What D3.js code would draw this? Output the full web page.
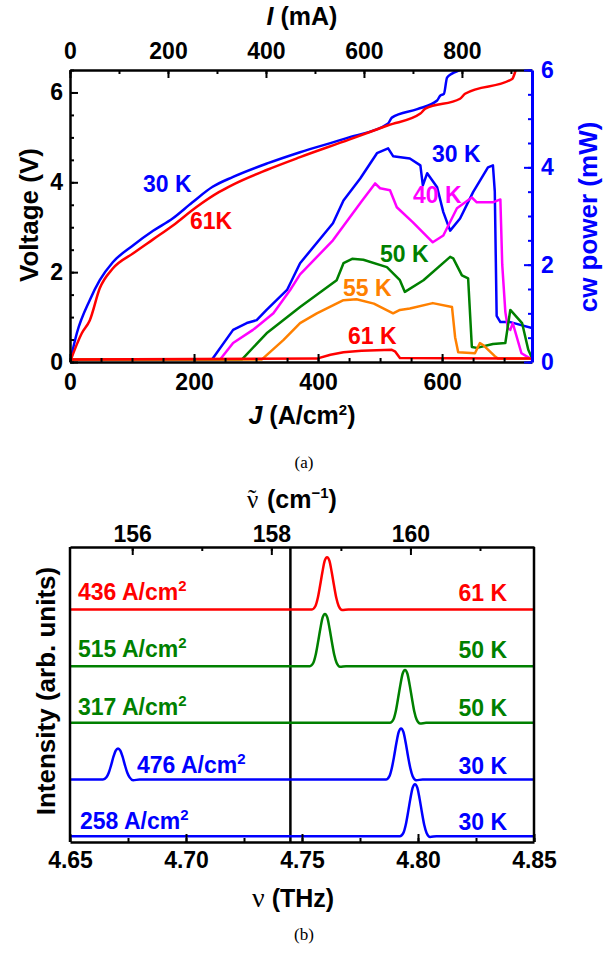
<!DOCTYPE html>
<html>
<head>
<meta charset="utf-8">
<script src="https://cdn.jsdelivr.net/npm/d3@7"></script>
<style>
  body { margin: 0; background: #fff; }
  text { font-family: "Liberation Sans", Arial, sans-serif; font-weight: bold; }
</style>
</head>
<body>
<div id="chart-container"></div>
<script>
// ---------- panel (a) data ----------
// voltage (V) against J (A/cm2)
const voltage30K = [[0,0],[11,0.64],[32,1.38],[48,1.82],[69,2.22],[102,2.6],[134,2.92],[166,3.2],[197,3.55],[230,3.9],[263,4.12],[318,4.42],[371,4.67],[450,5.0],[513,5.31],[519,5.44],[560,5.63],[592,5.82],[597,5.93],[603,5.97],[608,6.33],[616,6.42],[629,6.5],[640,6.6]];
const voltage61K = [[0,0],[19,0.64],[32,0.93],[48,1.64],[69,2.08],[102,2.42],[134,2.73],[166,3.04],[204,3.45],[240,3.78],[263,3.95],[318,4.28],[371,4.56],[450,4.95],[513,5.27],[565,5.53],[573,5.64],[629,5.86],[637,5.97],[713,6.3],[719,6.5],[722,6.6]];

// cw power (mW) against J (A/cm2)
const power30K = [[0,0.05],[229,0.05],[263,0.66],[285,0.8],[301,0.86],[317,1.07],[350,1.48],[371,2.03],[424,2.85],[441,3.32],[468,3.77],[495,4.29],[513,4.39],[521,4.23],[548,4.18],[565,4.04],[569,3.63],[576,3.88],[592,3.59],[602,3.08],[613,2.7],[629,2.95],[650,3.49],[674,4.0],[682,4.04],[685,3.5],[688,0.95],[694,0.82],[710,0.82],[745,0.7]];
const power40K = [[0,0.05],[242,0.05],[263,0.39],[295,0.66],[328,1.0],[355,1.48],[371,1.8],[424,2.5],[470,3.3],[492,3.67],[500,3.57],[516,3.53],[527,3.18],[553,2.87],[585,2.46],[602,2.6],[624,3.16],[648,3.38],[656,3.28],[682,3.28],[694,3.34],[697,2.0],[702,1.03],[706,0.7],[710,0.66],[714,0.8],[728,0.18],[745,0.05]];
const power50K = [[0,0.05],[277,0.05],[317,0.59],[371,1.13],[430,1.68],[441,2.03],[455,2.12],[473,2.1],[511,1.95],[532,1.68],[540,1.44],[570,1.68],[613,2.16],[618,2.13],[632,1.78],[642,1.72],[648,0.31],[656,0.29],[682,0.37],[702,0.39],[710,1.07],[729,0.8],[739,0.25],[745,0.08]];
const power55K = [[0,0.05],[309,0.05],[344,0.45],[371,0.8],[398,1.0],[441,1.27],[462,1.29],[490,1.2],[521,1.0],[532,1.07],[548,1.1],[585,1.21],[616,1.13],[621,0.51],[626,0.2],[653,0.18],[661,0.39],[666,0.35],[685,0.12],[690,0.07],[745,0.07]];
const power61K = [[0,0.05],[398,0.07],[420,0.15],[441,0.2],[470,0.23],[519,0.25],[524,0.22],[532,0.08],[745,0.07]];

const jTicks = [0, 200, 400, 600];
const iTicks = [0, 200, 400, 600, 800];
const vTicks = [0, 2, 4, 6];
const pTicks = [0, 2, 4, 6];

// ---------- panel (b) data ----------
// frequency (THz) against intensity above each trace's baseline
const spec61K_436 = [[4.65,0],[4.7543,0],[4.7558,0.06],[4.7568,0.2],[4.7578,0.42],[4.7588,0.66],[4.7598,0.86],[4.7608,0.92],[4.7618,0.86],[4.7628,0.66],[4.7638,0.42],[4.7648,0.2],[4.7658,0.06],[4.7673,-0.01],[4.77,0],[4.85,0]];
const spec50K_515 = [[4.65,0],[4.7534,0],[4.7549,0.06],[4.7559,0.2],[4.7569,0.42],[4.7579,0.66],[4.7589,0.86],[4.7599,0.92],[4.7609,0.86],[4.7619,0.66],[4.7629,0.42],[4.7639,0.2],[4.7649,0.06],[4.7664,-0.01],[4.769,0],[4.85,0]];
const spec50K_317 = [[4.65,0],[4.7879,0],[4.7894,0.06],[4.7904,0.2],[4.7914,0.43],[4.7924,0.67],[4.7934,0.87],[4.7944,0.93],[4.7954,0.87],[4.7964,0.67],[4.7974,0.43],[4.7984,0.2],[4.7994,0.06],[4.8009,-0.01],[4.8035,0],[4.85,0]];
const spec30K_476 = [[4.65,0],[4.6642,0],[4.6657,0.04],[4.6667,0.12],[4.6677,0.25],[4.6687,0.4],[4.6697,0.51],[4.6707,0.55],[4.6717,0.51],[4.6727,0.4],[4.6737,0.25],[4.6747,0.12],[4.6757,0.04],[4.6772,-0.01],[4.68,0],[4.7862,0],[4.7877,0.06],[4.7887,0.2],[4.7897,0.41],[4.7907,0.65],[4.7917,0.84],[4.7927,0.9],[4.7937,0.84],[4.7947,0.65],[4.7957,0.41],[4.7967,0.2],[4.7977,0.06],[4.7992,-0.01],[4.802,0],[4.85,0]];
const spec30K_258 = [[4.65,0],[4.7922,0],[4.7937,0.06],[4.7947,0.2],[4.7957,0.42],[4.7967,0.66],[4.7977,0.86],[4.7987,0.92],[4.7997,0.86],[4.8007,0.66],[4.8017,0.42],[4.8027,0.2],[4.8037,0.06],[4.8052,-0.01],[4.808,0],[4.85,0]];

const specOffsets = [4, 3, 2, 1, 0];
const specCurrents = ["436", "515", "317", "476", "258"];
const specTemps = ["61 K", "50 K", "50 K", "30 K", "30 K"];
const markerNu = 4.745;

const nuTicks = [4.65, 4.70, 4.75, 4.80, 4.85];
const wnTicks = [156, 158, 160];
const thzToWn = 33.356;

const BLUE = "#0000ff", RED = "#ff0000", MAG = "#ff00ff", GREEN = "#008000", ORANGE = "#ff8000";

//create the SVG element
const svg = d3.select("#chart-container")
  .append("svg")
  .attr("width", 607)
  .attr("height", 956);

// helper for major + minor inward ticks
function addAxis(gen, scale, major, minor, pad, tx, ty, color, fmt) {
  svg.append("g")
    .attr("transform", `translate(${tx},${ty})`)
    .call(gen(scale).tickValues(minor).tickSizeInner(-4).tickSizeOuter(0).tickFormat(""))
    .call(g => g.select(".domain").remove())
    .selectAll("line").attr("stroke", color).attr("stroke-width", 2);
  const g = svg.append("g")
    .attr("transform", `translate(${tx},${ty})`)
    .call(gen(scale).tickValues(major).tickSizeInner(-8).tickSizeOuter(0).tickPadding(pad)
      .tickFormat(fmt || d3.format("d")));
  g.select(".domain").attr("stroke", color).attr("stroke-width", 2.5);
  g.selectAll("line").attr("stroke", color).attr("stroke-width", 2);
  g.selectAll("text")
    .attr("fill", color)
    .style("font-size", "23px")
    .style("font-family", "'Liberation Sans', Arial, sans-serif")
    .style("font-weight", "bold");
  return g;
}

// ================= panel (a) =================
const pa = {left: 70, right: 532, top: 70, bottom: 362};
const xJ = d3.scaleLinear().domain([0, 745]).range([pa.left, pa.right]);
const xI = d3.scaleLinear().domain([0, 943]).range([pa.left, pa.right]);
const yV = d3.scaleLinear().domain([0, 6.5]).range([pa.bottom, pa.top]);
const yP = d3.scaleLinear().domain([0, 6]).range([pa.bottom, pa.top]);

svg.append("clipPath").attr("id", "clipA")
  .append("rect")
  .attr("x", pa.left).attr("y", pa.top)
  .attr("width", pa.right - pa.left).attr("height", pa.bottom - pa.top);

const linePower = d3.line().x(d => xJ(d[0])).y(d => yP(d[1]));
const lineVolt = d3.line().x(d => xJ(d[0])).y(d => yV(d[1])).curve(d3.curveMonotoneX);

const curvesA = svg.append("g").attr("clip-path", "url(#clipA)");
[[power30K, BLUE], [power40K, MAG], [power50K, GREEN], [power55K, ORANGE], [power61K, RED]]
  .forEach(([data, color]) => {
    curvesA.append("path")
      .datum(data)
      .attr("fill", "none")
      .attr("stroke", color)
      .attr("stroke-width", 2.5)
      .attr("stroke-linejoin", "round")
      .attr("d", linePower);
  });
[[voltage30K, BLUE], [voltage61K, RED]].forEach(([data, color]) => {
  curvesA.append("path")
    .datum(data)
    .attr("fill", "none")
    .attr("stroke", color)
    .attr("stroke-width", 2.5)
    .attr("d", lineVolt);
});

//axes for panel (a)
addAxis(d3.axisBottom, xJ, jTicks, d3.range(0, 746, 50), 12, 0, pa.bottom, "#000");
addAxis(d3.axisTop, xI, iTicks, d3.range(0, 944, 100), 11, 0, pa.top, "#000");
addAxis(d3.axisLeft, yV, vTicks, d3.range(0, 6.6, 0.5), 7, pa.left, 0, "#000");
addAxis(d3.axisRight, yP, pTicks, d3.range(0, 6.1, 0.5), 9, pa.right, 0, BLUE)
  .select(".domain").attr("stroke-width", 3);

// axis titles (a)
svg.append("text")
  .attr("x", 302).attr("y", 25)
  .attr("text-anchor", "middle")
  .style("font-size", "25px")
  .call(t => {
    t.append("tspan").style("font-style", "italic").text("I");
    t.append("tspan").text(" (mA)");
  });

svg.append("text")
  .attr("x", 302).attr("y", 424)
  .attr("text-anchor", "middle")
  .style("font-size", "25px")
  .call(t => {
    t.append("tspan").style("font-style", "italic").text("J");
    t.append("tspan").text(" (A/cm");
    t.append("tspan").attr("dy", -9).style("font-size", "15px").text("2");
    t.append("tspan").attr("dy", 9).text(")");
  });

svg.append("text")
  .attr("transform", "translate(38,215) rotate(-90)")
  .attr("text-anchor", "middle")
  .style("font-size", "26px")
  .text("Voltage (V)");

svg.append("text")
  .attr("transform", "translate(597,217) rotate(-90)")
  .attr("text-anchor", "middle")
  .attr("fill", BLUE)
  .style("font-size", "26px")
  .text("cw power (mW)");

// curve labels (a)
const labelsA = [
  ["30 K", BLUE, 143, 192], ["61K", RED, 190, 229], ["30 K", BLUE, 432, 162],
  ["40 K", MAG, 413, 203], ["50 K", GREEN, 380, 262], ["55 K", ORANGE, 343, 296],
  ["61 K", RED, 348, 344]
];
labelsA.forEach(([txt, color, x, y]) => {
  svg.append("text")
    .attr("x", x).attr("y", y)
    .attr("fill", color)
    .style("font-size", "23px")
    .text(txt);
});

svg.append("text")
  .attr("x", 304).attr("y", 468)
  .attr("text-anchor", "middle")
  .style("font-family", "'Liberation Serif', 'Times New Roman', serif")
  .style("font-weight", "normal")
  .style("font-size", "17px")
  .text("(a)");

// ================= panel (b) =================
const pb = {left: 70, right: 534, top: 547, bottom: 842};
const xNu = d3.scaleLinear().domain([4.65, 4.85]).range([pb.left, pb.right]);
const xWn = d3.scaleLinear().domain([4.65 * thzToWn, 4.85 * thzToWn]).range([pb.left, pb.right]);
const yS = d3.scaleLinear().domain([-0.1, 5.1]).range([pb.bottom, pb.top]);

// marker line
svg.append("line")
  .attr("x1", xNu(markerNu)).attr("x2", xNu(markerNu))
  .attr("y1", pb.top).attr("y2", pb.bottom)
  .attr("stroke", "#000")
  .attr("stroke-width", 2.5);

const spectra = [spec61K_436, spec50K_515, spec50K_317, spec30K_476, spec30K_258];
const specColors = [RED, GREEN, GREEN, BLUE, BLUE];

spectra.forEach((data, i) => {
  const line = d3.line()
    .x(d => xNu(d[0]))
    .y(d => yS(d[1] + specOffsets[i]))
    .curve(d3.curveMonotoneX);
  svg.append("path")
    .datum(data)
    .attr("fill", "none")
    .attr("stroke", specColors[i])
    .attr("stroke-width", 2.5)
    .attr("d", line);
});

// frame
svg.append("line").attr("x1", pb.left).attr("x2", pb.left).attr("y1", pb.top).attr("y2", pb.bottom)
  .attr("stroke", "#000").attr("stroke-width", 2.5);
svg.append("line").attr("x1", pb.right).attr("x2", pb.right).attr("y1", pb.top).attr("y2", pb.bottom)
  .attr("stroke", "#000").attr("stroke-width", 2.5);

addAxis(d3.axisBottom, xNu, nuTicks, d3.range(4.65, 4.851, 0.025), 10, 0, pb.bottom, "#000", d3.format(".2f"));
addAxis(d3.axisTop, xWn, wnTicks, d3.range(156, 162, 1), 5, 0, pb.top, "#000");

// spectrum labels
const leftLabelX = [78, 78, 78, 137, 80];
const labelBase = [600, 657, 715, 773, 829];
specCurrents.forEach((c, i) => {
  svg.append("text")
    .attr("x", leftLabelX[i]).attr("y", labelBase[i])
    .attr("fill", specColors[i])
    .style("font-size", "23px")
    .call(t => {
      t.append("tspan").text(c + " A/cm");
      t.append("tspan").attr("dy", -9).style("font-size", "15px").text("2");
    });
  svg.append("text")
    .attr("x", 507).attr("y", labelBase[i] + 1)
    .attr("text-anchor", "end")
    .attr("fill", specColors[i])
    .style("font-size", "23px")
    .text(specTemps[i]);
});

// axis titles (b)
svg.append("text")
  .attr("transform", "translate(55,691) rotate(-90)")
  .attr("text-anchor", "middle")
  .style("font-size", "26px")
  .text("Intensity (arb. units)");

// wavenumber title: nu with a tilde placed over it
svg.append("text")
  .attr("x", 247).attr("y", 508)
  .call(t => {
    t.append("tspan")
      .style("font-family", "'Liberation Serif', 'DejaVu Serif', serif")
      .style("font-weight", "normal")
      .style("font-size", "25px")
      .text("\u03BD");
    t.append("tspan")
      .attr("x", 248).attr("dy", -1)
      .style("font-family", "'Liberation Serif', 'DejaVu Serif', serif")
      .style("font-weight", "normal")
      .style("font-size", "25px")
      .text("\u02DC");
    t.append("tspan").attr("x", 267).attr("dy", 1).style("font-size", "25px").text("(cm");
    t.append("tspan").attr("dy", -10).style("font-size", "15px").text("−1");
    t.append("tspan").attr("dy", 10).style("font-size", "25px").text(")");
  });

svg.append("text")
  .attr("x", 252).attr("y", 907)
  .call(t => {
    t.append("tspan")
      .style("font-family", "'Liberation Serif', 'DejaVu Serif', serif")
      .style("font-weight", "normal")
      .style("font-size", "28px")
      .text("\u03BD ");
    t.append("tspan").style("font-size", "25px").text("(THz)");
  });

svg.append("text")
  .attr("x", 304).attr("y", 940)
  .attr("text-anchor", "middle")
  .style("font-family", "'Liberation Serif', 'Times New Roman', serif")
  .style("font-weight", "normal")
  .style("font-size", "17px")
  .text("(b)");
</script>
</body>
</html>
